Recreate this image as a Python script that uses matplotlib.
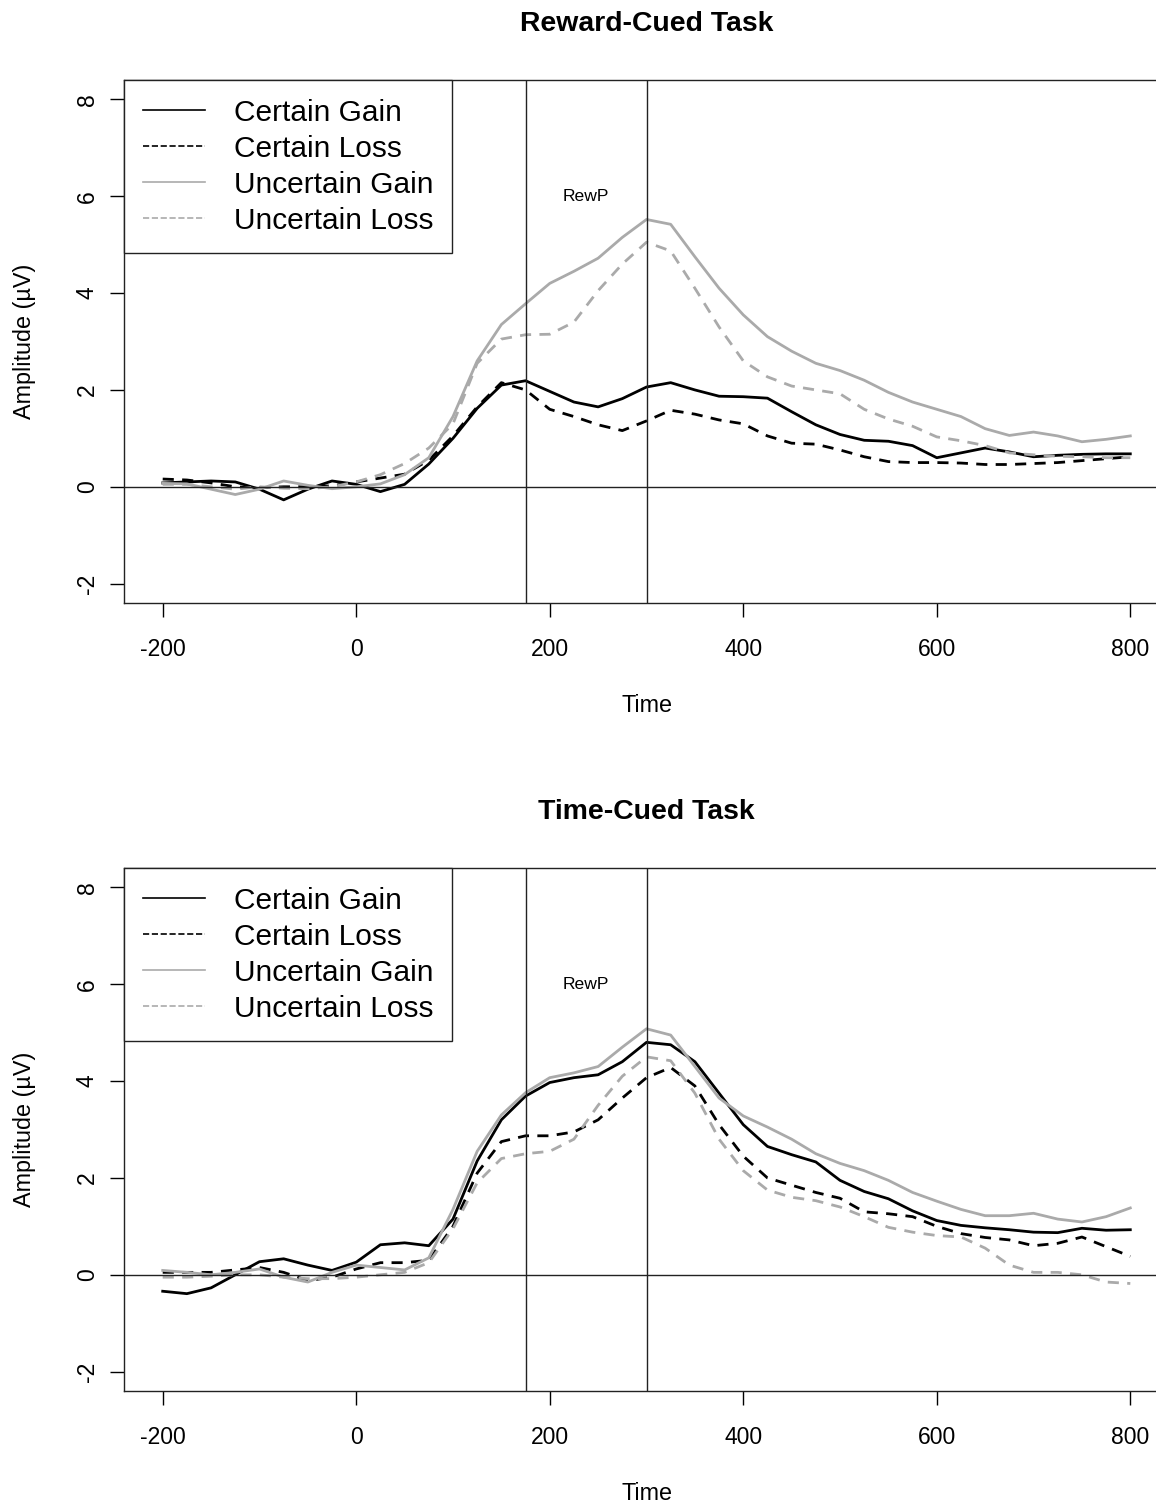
import matplotlib
matplotlib.use("Agg")
import matplotlib.pyplot as plt
from matplotlib.lines import Line2D

plt.rcParams['font.family'] = ['Liberation Sans', 'DejaVu Sans']

# sample times (ms)
time = [-200, -175, -150, -125, -100, -75, -50, -25, 0, 25, 50, 75, 100,
        125, 150, 175, 200, 225, 250, 275, 300, 325, 350, 375, 400, 425,
        450, 475, 500, 525, 550, 575, 600, 625, 650, 675, 700, 725, 750,
        775, 800]

# Reward-Cued Task
rew_certain_gain = [0.08, 0.10, 0.12, 0.10, -0.05, -0.27, -0.05, 0.12, 0.05, -0.10,
                    0.05, 0.47, 1.0, 1.62, 2.10, 2.19, 1.97, 1.75, 1.65, 1.82,
                    2.06, 2.15, 2.0, 1.87, 1.86, 1.83, 1.55, 1.28, 1.08, 0.96,
                    0.94, 0.85, 0.60, 0.70, 0.80, 0.72, 0.62, 0.65, 0.67, 0.68,
                    0.68]
rew_certain_loss = [0.16, 0.14, 0.08, 0.0, -0.02, 0.0, 0.0, 0.02, 0.10, 0.18,
                    0.26, 0.55, 1.05, 1.65, 2.15, 2.0, 1.6, 1.45, 1.28, 1.16,
                    1.36, 1.58, 1.5, 1.38, 1.30, 1.05, 0.90, 0.88, 0.76, 0.62,
                    0.52, 0.50, 0.50, 0.49, 0.46, 0.46, 0.48, 0.50, 0.54, 0.58,
                    0.62]
rew_uncertain_gain = [0.07, 0.06, -0.05, -0.16, -0.05, 0.12, 0.03, -0.04, 0.0, 0.06,
                      0.25, 0.60, 1.45, 2.6, 3.35, 3.78, 4.2, 4.45, 4.72, 5.15,
                      5.52, 5.42, 4.75, 4.1, 3.55, 3.1, 2.8, 2.55, 2.4, 2.2,
                      1.95, 1.75, 1.6, 1.45, 1.2, 1.06, 1.13, 1.05, 0.93, 0.98,
                      1.05]
rew_uncertain_loss = [0.05, 0.05, 0.0, -0.05, 0.0, -0.03, -0.04, 0.0, 0.10, 0.25,
                      0.48, 0.80, 1.3, 2.55, 3.05, 3.14, 3.15, 3.4, 4.05, 4.6,
                      5.05, 4.87, 4.1, 3.3, 2.6, 2.27, 2.08, 2.0, 1.92, 1.6,
                      1.4, 1.25, 1.03, 0.95, 0.85, 0.70, 0.66, 0.63, 0.62, 0.60,
                      0.60]

# Time-Cued Task
time_certain_gain = [-0.34, -0.39, -0.27, 0.0, 0.27, 0.33, 0.20, 0.09, 0.26, 0.62,
                     0.66, 0.60, 1.15, 2.35, 3.2, 3.69, 3.97, 4.07, 4.13, 4.4,
                     4.8, 4.75, 4.4, 3.75, 3.1, 2.65, 2.48, 2.33, 1.95, 1.72,
                     1.57, 1.32, 1.12, 1.02, 0.97, 0.93, 0.88, 0.87, 0.96, 0.92,
                     0.93]
time_certain_loss = [0.05, 0.05, 0.05, 0.10, 0.15, 0.05, -0.12, -0.05, 0.12, 0.25,
                     0.25, 0.30, 1.0, 2.1, 2.75, 2.87, 2.87, 2.95, 3.2, 3.65,
                     4.07, 4.28, 3.9, 3.1, 2.45, 2.0, 1.85, 1.7, 1.58, 1.3,
                     1.26, 1.2, 1.0, 0.85, 0.77, 0.72, 0.60, 0.65, 0.78, 0.58,
                     0.38]
time_uncertain_gain = [0.09, 0.05, 0.0, 0.05, 0.12, -0.05, -0.15, 0.05, 0.20, 0.15,
                       0.10, 0.35, 1.35, 2.55, 3.3, 3.76, 4.07, 4.17, 4.3, 4.7,
                       5.08, 4.95, 4.3, 3.65, 3.28, 3.05, 2.8, 2.5, 2.3, 2.15,
                       1.95, 1.7, 1.52, 1.35, 1.22, 1.22, 1.27, 1.15, 1.09, 1.2,
                       1.38]
time_uncertain_loss = [-0.05, -0.05, -0.03, 0.0, 0.0, -0.05, -0.08, -0.08, -0.05, 0.0,
                       0.05, 0.25, 0.95, 1.9, 2.4, 2.5, 2.55, 2.8, 3.5, 4.1,
                       4.5, 4.42, 3.75, 2.8, 2.15, 1.75, 1.6, 1.53, 1.4, 1.2,
                       0.98, 0.88, 0.81, 0.78, 0.55, 0.20, 0.05, 0.05, 0.0, -0.15,
                       -0.18]

condition_names = ["Certain Gain", "Certain Loss", "Uncertain Gain", "Uncertain Loss"]
rewp_window = [175, 300]
x_ticks = [-200, 0, 200, 400, 600, 800]
y_ticks = [-2, 0, 2, 4, 6, 8]

GRAY = "#aaaaaa"


def draw_panel(ax, title, series):
    colors = ["black", "black", GRAY, GRAY]
    styles = ["-", "--", "-", "--"]
    for vals, c, ls in zip(series, colors, styles):
        line, = ax.plot(time, vals, color=c, lw=2.0, linestyle=ls,
                        solid_joinstyle="round", dash_joinstyle="round")
        if ls == "--":
            line.set_dashes((4, 3))

    ax.axhline(0, color="#222222", lw=1.0)
    for v in rewp_window:
        ax.axvline(v, color="#222222", lw=1.0)
    ax.text(sum(rewp_window) / 2.0, 6, "RewP", ha="center", va="center", fontsize=12.6)

    ax.set_xlim(-240, 840)
    ax.set_ylim(-2.4, 8.4)
    ax.set_xticks(x_ticks)
    ax.set_yticks(y_ticks)
    ax.set_xticklabels([str(t) for t in x_ticks])
    ax.set_yticklabels([str(t) for t in y_ticks])
    ax.tick_params(direction="out", length=10, width=1, labelsize=16.5)
    ax.tick_params(axis="x", pad=15)
    ax.tick_params(axis="y", pad=8)
    for lab in ax.get_yticklabels():
        lab.set_rotation(90)
        lab.set_va("center")
    for sp in ax.spines.values():
        sp.set_linewidth(1.0)
        sp.set_color("#222222")

    ax.set_xlabel("Time", fontsize=16.8)
    ax.xaxis.set_label_coords(0.5, -102 / 523.0)
    ax.xaxis.label.set_va("center")
    ax.set_ylabel("Amplitude (µV)", fontsize=16.8)
    ax.yaxis.set_label_coords(-99 / 1045.0, 0.5)
    ax.yaxis.label.set_va("center")

    ax.text(0.5, 1 + 56 / 523.0, title, transform=ax.transAxes, ha="center",
            va="center", fontsize=20.4, fontweight="bold")

    handles = [Line2D([], [], color=c, lw=1.2, linestyle=ls)
               for c, ls in zip(colors, styles)]
    leg = ax.legend(handles, condition_names, loc="upper left", fontsize=21.5,
                    frameon=True, fancybox=False, borderaxespad=0, borderpad=0.62,
                    labelspacing=0.27, handlelength=2.1, handletextpad=0.95)
    leg.get_frame().set_edgecolor("#222222")
    leg.get_frame().set_linewidth(1.0)
    leg.get_frame().set_alpha(1)


def main():
    fig = plt.figure(figsize=(11.56, 15.06), dpi=100)
    ax1 = fig.add_axes([124 / 1156.0, 1 - 603 / 1506.0, 1045 / 1156.0, 523 / 1506.0])
    ax2 = fig.add_axes([124 / 1156.0, 1 - 1391 / 1506.0, 1045 / 1156.0, 523 / 1506.0])

    draw_panel(ax1, "Reward-Cued Task",
               [rew_certain_gain, rew_certain_loss, rew_uncertain_gain, rew_uncertain_loss])
    draw_panel(ax2, "Time-Cued Task",
               [time_certain_gain, time_certain_loss, time_uncertain_gain, time_uncertain_loss])

    fig.savefig("out.png", dpi=100)


main()
